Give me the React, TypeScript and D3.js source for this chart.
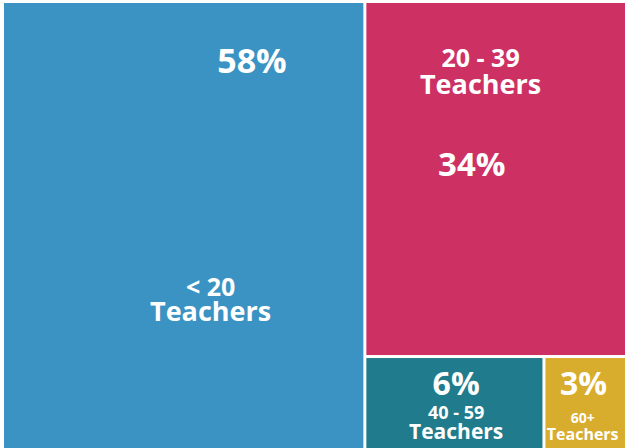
import React from 'react';
import * as d3 from 'd3';

const width = 625;
const height = 448;
const origin = {x: 4, y: 3};
const layoutSize = [628, 446];
const gap = 3;

// data
const categories = ['< 20', '20 - 39', '40 - 59', '60+'];
const shares = [58, 34, 6, 3];
const colors = ['#3a93c3', '#cd3163', '#207c8c', '#d8ac2c'];

// where the labels sit inside each tile (fraction of tile width, baselines in px)
const labelPlacement = {
  '< 20': {pctCx: 0.69, pctY: 73, pctSize: 34, catCx: 0.575, catY: [296, 321], catSize: [25, 27]},
  '20 - 39': {pctCx: 0.397, pctY: 176, pctSize: 33, catCx: 0.43, catY: [67, 94], catSize: [25, 27]},
  '40 - 59': {pctCx: 0.51, pctY: 395, pctSize: 32, catCx: 0.51, catY: [419, 439], catSize: [18, 21]},
  '60+': {pctCx: 0.44, pctY: 395, pctSize: 32, catCx: 0.43, catY: [423, 440], catSize: [14, 16]},
};

const font = "'Open Sans', 'DejaVu Sans', sans-serif";

export default function App() {
  const root = d3
    .hierarchy({children: categories.map((c, i) => ({name: c, value: shares[i], color: colors[i]}))})
    .sum((d: any) => d.value || 0);

  d3.treemap()
    .tile(d3.treemapSquarify.ratio(1))
    .size(layoutSize as [number, number])
    .paddingInner(gap)(root as any);

  const leaves = root.leaves() as any[];

  return (
    <svg width={width} height={height} style={{position: 'absolute', left: 0, top: 0}}>
      <rect width={width} height={height} fill="#fff" />
      <g transform={`translate(${origin.x}, ${origin.y})`}>
        {leaves.map((d) => (
          <rect key={d.data.name} x={d.x0} y={d.y0} width={d.x1 - d.x0} height={d.y1 - d.y0} fill={d.data.color} />
        ))}
      </g>
      {leaves.map((d) => {
        const p = labelPlacement[d.data.name];
        const x0 = d.x0 + origin.x;
        const w = d.x1 - d.x0;
        return (
          <g key={d.data.name} fill="#fff" fontFamily={font} fontWeight={700} textAnchor="middle">
            <text x={x0 + p.pctCx * w} y={p.pctY} fontSize={p.pctSize}>{`${d.data.value}%`}</text>
            <text x={x0 + p.catCx * w} y={p.catY[0]} fontSize={p.catSize[0]}>{d.data.name}</text>
            <text x={x0 + p.catCx * w} y={p.catY[1]} fontSize={p.catSize[1]}>Teachers</text>
          </g>
        );
      })}
    </svg>
  );
}
